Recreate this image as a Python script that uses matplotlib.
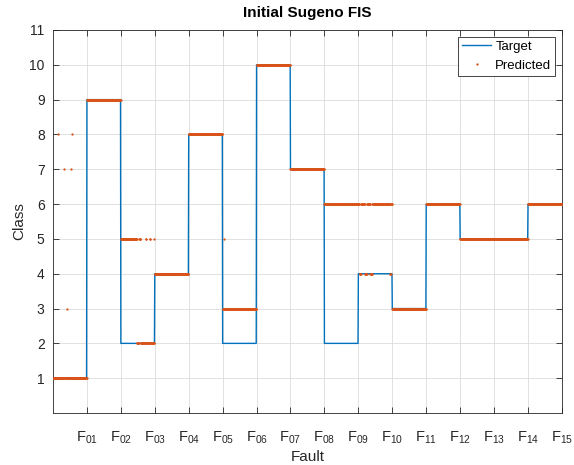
import numpy as np
import matplotlib
matplotlib.use("Agg")
import matplotlib.pyplot as plt

plt.rcParams['font.family'] = ['Liberation Sans', 'DejaVu Sans']
plt.rcParams['mathtext.fontset'] = 'custom'
plt.rcParams['mathtext.rm'] = 'Liberation Sans'
plt.rcParams['mathtext.it'] = 'Liberation Sans'

# ---- data ----
fault_labels = ['01', '02', '03', '04', '05', '06', '07', '08', '09', '10',
                '11', '12', '13', '14', '15']
samples_per_fault = 100
target_class = [1, 9, 2, 4, 8, 2, 10, 7, 2, 4, 3, 6, 5, 5, 6]
predicted_majority = [1, 9, 5, 4, 8, 3, 10, 7, 6, 6, 3, 6, 5, 5, 6]
# exceptions: (fault index, first sample, last sample, predicted class)
predicted_exceptions = [
    (0, 14, 14, 8), (0, 55, 55, 8), (0, 32, 32, 7), (0, 53, 53, 7), (0, 42, 42, 3),
    (2, 48, 53, 2), (2, 58, 72, 2), (2, 75, 84, 2), (2, 87, 98, 2),
    (5, 4, 4, 5),
    (9, 4, 7, 4), (9, 20, 24, 4), (9, 35, 40, 4), (9, 93, 95, 4),
]

# ---- build series ----
n = samples_per_fault
x = np.arange(n * len(target_class)) / n
target = np.repeat(target_class, n).astype(float)
predicted = np.repeat(predicted_majority, n).astype(float)
for f, s0, s1, c in predicted_exceptions:
    predicted[f * n + s0: f * n + s1 + 1] = c

fig = plt.figure(figsize=(5.74, 4.65), dpi=100)
ax = fig.add_axes([0.0923, 0.1118, 0.979 - 0.0923, 0.9355 - 0.1118])

ax.plot(x, target, color='#0072BD', lw=1.0, label='Target', zorder=3)
ax.plot(x, predicted, '.', color='#D95319', ms=3.3, mew=0, label='Predicted', zorder=4)

ax.set_xlim(0, len(target_class))
ax.set_ylim(0, 11)
ax.set_xticks(np.arange(1, len(target_class) + 1))
ax.set_xticklabels([r'$\mathrm{F_{%s}}$' % s for s in fault_labels], fontsize=10.5)
ax.set_yticks(np.arange(1, 12))
ax.tick_params(axis='both', direction='in', top=True, right=True, length=4,
               width=0.6, colors='#262626', labelsize=10)
ax.tick_params(axis='x', pad=12, labelsize=10.5)
ax.tick_params(axis='y', pad=6)
for sp in ax.spines.values():
    sp.set_color('#262626')
    sp.set_linewidth(0.6)
ax.grid(True, color='#dcdcdc', lw=0.6)
ax.set_axisbelow(True)

ax.set_title('Initial Sugeno FIS', fontsize=11, fontweight='bold', pad=9)
ax.set_xlabel('Fault', fontsize=11, color='#262626', labelpad=3)
ax.set_ylabel('Class', fontsize=11, color='#262626')
ax.yaxis.set_label_coords(-0.053, 0.5)

leg = ax.legend(loc='upper right', fontsize=9.5, fancybox=False, framealpha=1,
                edgecolor='#262626', borderpad=0.3, handlelength=2.2,
                handletextpad=0.3, markerscale=1.0, borderaxespad=0.5)
leg.get_frame().set_linewidth(0.6)

fig.savefig('out.png', dpi=100)
